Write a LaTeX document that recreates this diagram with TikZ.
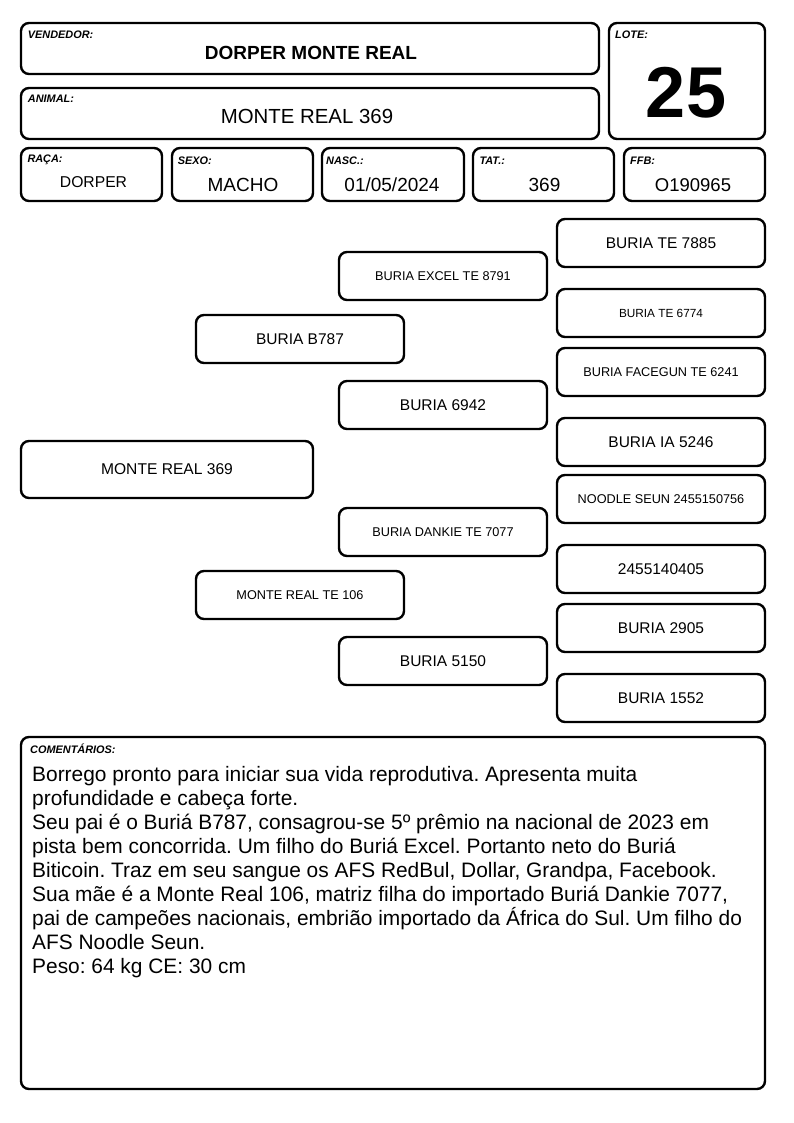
\documentclass[tikz,border=0pt]{standalone}
\usepackage{fontspec}
\setmainfont{Liberation Sans}
\frenchspacing
\begin{document}
\begin{tikzpicture}[x=1pt,y=-1pt,
  box/.style={draw, line width=2.4pt, rounded corners=8pt, inner sep=0pt},
  lbl/.style={font=\fontsize{10.9}{12}\selectfont\bfseries\itshape, anchor=base west, inner sep=0pt},
  val/.style={font=\fontsize{19}{22}\selectfont, anchor=base, inner sep=0pt},
  pbig/.style={box, minimum width=208pt, minimum height=48pt, font=\fontsize{15.5}{18}\selectfont},
  psmall/.style={box, minimum width=208pt, minimum height=48pt, font=\fontsize{12.7}{15}\selectfont},
  ]
\useasboundingbox (0,0) rectangle (794,1123);
% header boxes
\node[box, minimum width=578pt, minimum height=51pt] (vend) at (310,48.5) {};
\node[box, minimum width=156pt, minimum height=116pt] (lote) at (687,81) {};
\node[box, minimum width=578pt, minimum height=51pt] (anim) at (310,113.5) {};
\node[box, minimum width=141pt, minimum height=53pt] (raca) at (91.5,174.5) {};
\node[box, minimum width=141pt, minimum height=53pt] (sexo) at (242.5,174.5) {};
\node[box, minimum width=142pt, minimum height=53pt] (nasc) at (393,174.5) {};
\node[box, minimum width=141pt, minimum height=53pt] (tat) at (543.5,174.5) {};
\node[box, minimum width=141pt, minimum height=53pt] (ffb) at (694.5,174.5) {};
% labels
\node[lbl] (lvend) at (27.7,39) {VENDEDOR:};
\node[lbl] (llote) at (615,39) {LOTE:};
\node[lbl] (lanim) at (27.7,102.7) {ANIMAL:};
\node[lbl] (lraca) at (27.3,163) {RAÇA:};
\node[lbl] (lsexo) at (177.7,165) {SEXO:};
\node[lbl] (lnasc) at (326,165) {NASC.:};
\node[lbl] (ltat) at (479.3,165) {TAT.:};
\node[lbl] (lffb) at (630,165) {FFB:};
% values
\node[val, font=\fontsize{19}{22}\selectfont\bfseries] (tvend) at (311,60) {DORPER MONTE REAL};
\node[val, font=\fontsize{20.4}{24}\selectfont] (tanim) at (307,123.3) {MONTE REAL 369};
\node[val, font=\fontsize{72}{80}\selectfont\bfseries] (tlote) at (686,118) {25};
\node[val, font=\fontsize{15.7}{18}\selectfont] (traca) at (93.5,188) {DORPER};
\node[val] (tsexo) at (243,192) {MACHO};
\node[val] (tnasc) at (392,192) {01/05/2024};
\node[val] (ttat) at (544.5,192) {369};
\node[val, font=\fontsize{18.5}{22}\selectfont] (tffb) at (693,192) {O190965};
% pedigree
\node[box, minimum width=292pt, minimum height=57pt, font=\fontsize{15.6}{18}\selectfont] (p0) at (167,469.5) {MONTE REAL 369};
\node[pbig] (s) at (300,339) {BURIA B787};
\node[psmall] (d) at (300,595) {MONTE REAL TE 106};
\node[psmall] (ss) at (443,276) {BURIA EXCEL TE 8791};
\node[pbig] (sd) at (443,405) {BURIA 6942};
\node[psmall] (ds) at (443,532) {BURIA DANKIE TE 7077};
\node[pbig] (dd) at (443,661) {BURIA 5150};
\node[pbig] (sss) at (661,243) {BURIA TE 7885};
\node[psmall, font=\fontsize{11.8}{14}\selectfont] (ssd) at (661,313) {BURIA TE 6774};
\node[psmall] (sds) at (661,372) {BURIA FACEGUN TE 6241};
\node[pbig] (sdd) at (661,442) {BURIA IA 5246};
\node[psmall] (dss) at (661,499) {NOODLE SEUN 2455150756};
\node[pbig] (dsd) at (661,569) {2455140405};
\node[pbig] (dds) at (661,628) {BURIA 2905};
\node[pbig] (ddd) at (661,698) {BURIA 1552};
% comments
\node[box, minimum width=744pt, minimum height=352pt] (com) at (393,913) {};
\node[lbl] (lcom) at (30,753) {COMENTÁRIOS:};
\node[anchor=base west, inner sep=0pt, align=left, font=\fontsize{20.9}{24}\selectfont] (tcom) at (32,973) {Borrego pronto para iniciar sua vida reprodutiva. Apresenta muita\\
profundidade e cabeça forte.\\
Seu pai é o Buriá B787, consagrou-se 5º prêmio na nacional de 2023 em\\
pista bem concorrida. Um filho do Buriá Excel. Portanto neto do Buriá\\
Biticoin. Traz em seu sangue os AFS RedBul, Dollar, Grandpa, Facebook.\\
Sua mãe é a Monte Real 106, matriz filha do importado Buriá Dankie 7077,\\
pai de campeões nacionais, embrião importado da África do Sul. Um filho do\\
AFS Noodle Seun.\\
Peso: 64 kg CE: 30 cm};
\end{tikzpicture}
\end{document}
